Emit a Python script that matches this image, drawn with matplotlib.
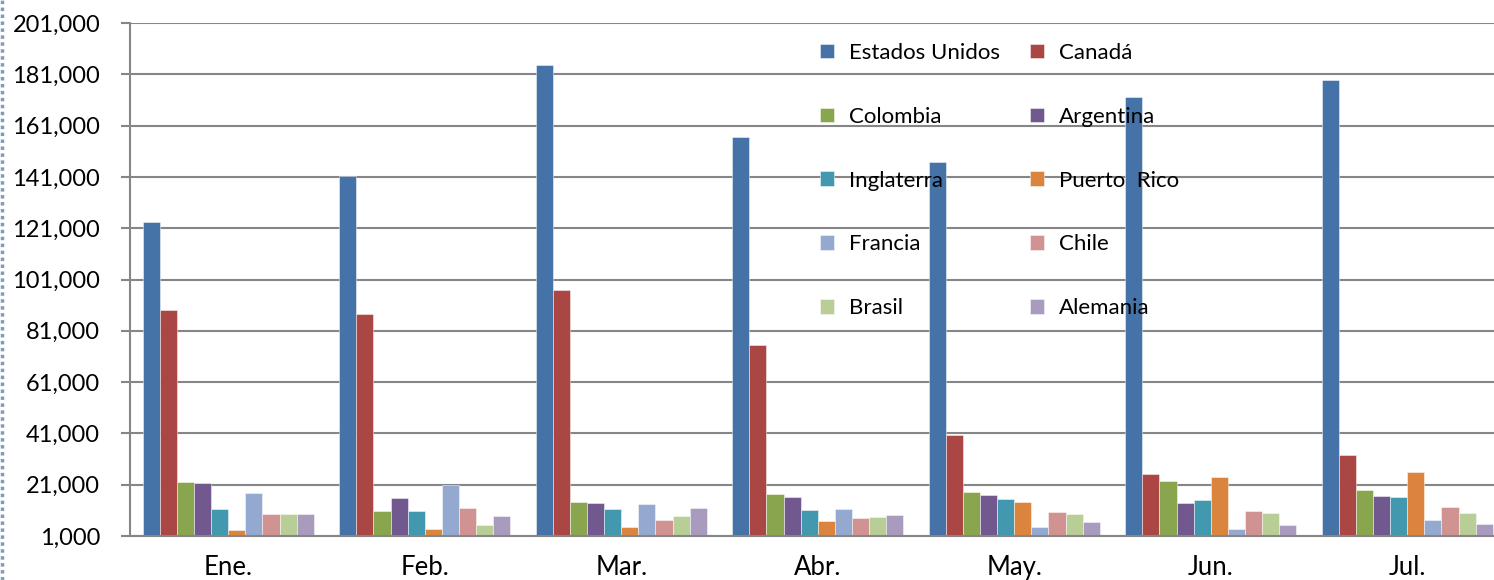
import matplotlib
matplotlib.use("Agg")
import matplotlib.pyplot as plt
import numpy as np
from matplotlib.ticker import FuncFormatter
from matplotlib.lines import Line2D

months = ['Ene.', 'Feb.', 'Mar.', 'Abr.', 'May.', 'Jun.', 'Jul.']
countries = ['Estados Unidos', 'Canadá', 'Colombia', 'Argentina', 'Inglaterra',
             'Puerto  Rico', 'Francia', 'Chile', 'Brasil', 'Alemania']

estados_unidos = [123500, 141200, 184500, 156600, 146800, 172300, 178800]
canada = [89300, 87500, 96800, 75600, 40300, 25200, 32600]
colombia = [22000, 10700, 14300, 17200, 18000, 22300, 18800]
argentina = [21600, 16000, 13800, 16300, 17100, 13900, 16400]
inglaterra = [11600, 10600, 11600, 11100, 15300, 15000, 16200]
puerto_rico = [3200, 3600, 4400, 7000, 14300, 24100, 25900]
francia = [17700, 20800, 13400, 11500, 4500, 3600, 7100]
chile = [9500, 12100, 7100, 8100, 10300, 10600, 12300]
brasil = [9400, 5200, 8700, 8400, 9400, 9900, 9800]
alemania = [9600, 8700, 11900, 9000, 6400, 5100, 5600]

series = [estados_unidos, canada, colombia, argentina, inglaterra,
          puerto_rico, francia, chile, brasil, alemania]
colors = ['#4572A7', '#AA4643', '#89A54E', '#71588F', '#4198AF',
          '#DB843D', '#93A9CF', '#D19392', '#B9CD96', '#A99BBD']

yticks = list(range(1000, 201001, 20000))

plt.rcParams['font.family'] = ['Lato', 'DejaVu Sans']

W, H = 1494, 580
fig = plt.figure(figsize=(W / 100, H / 100), dpi=100)
fig.patch.set_facecolor('white')

left_px, base_px, top_px = 130, 536, 23
cat_w = 196.5
ax = fig.add_axes([left_px / W, (H - base_px) / H,
                   7 * cat_w / W, (base_px - top_px) / H])

x = np.arange(len(months))
n = len(series)
group = 0.87
bw = group / n
handles = []
for i, (vals, c) in enumerate(zip(series, colors)):
    pos = x - group / 2 + bw * (i + 0.5)
    b = ax.bar(pos, vals, width=bw, color=c, edgecolor=(1, 1, 1, 0.55),
               linewidth=0.6, zorder=2, label=countries[i])
    handles.append(b)

ax.set_xlim(-0.5, 6.5)
ax.set_ylim(1000, 201000)
ax.set_yticks(yticks)
ax.yaxis.set_major_formatter(FuncFormatter(lambda v, p: f'{int(v):,}'))
ax.set_xticks(x)
ax.set_xticklabels(months)

gc = '#868686'
ax.set_axisbelow(True)
ax.yaxis.grid(True, color=gc, linewidth=1.5)
for s in ['top', 'right']:
    ax.spines[s].set_visible(False)
ax.spines['left'].set_color(gc)
ax.spines['left'].set_linewidth(1.5)
ax.spines['bottom'].set_color(gc)
ax.spines['bottom'].set_linewidth(1.5)
ax.tick_params(axis='y', length=6.5, width=1.5, color=gc, pad=15,
               labelsize=17, labelcolor='black')
ax.tick_params(axis='x', length=0, pad=14, labelsize=18.5, labelcolor='black')

order = [0, 2, 4, 6, 8, 1, 3, 5, 7, 9]
leg = ax.legend([handles[i] for i in order], [countries[i] for i in order],
                ncol=2, frameon=False, loc='upper left',
                bbox_to_anchor=(820 / W, 1 - 43 / H), bbox_transform=fig.transFigure,
                fontsize=16, labelspacing=1.97, handlelength=0.63,
                handleheight=0.63, handletextpad=0.68, columnspacing=1.35,
                borderpad=0, borderaxespad=0)

fig.add_artist(Line2D([2 / W, 2 / W], [0, 1], transform=fig.transFigure,
                      color='#7F9DB9', linewidth=2.5, linestyle=(0, (1, 1))))

fig.savefig('out.png', dpi=100, facecolor='white')
